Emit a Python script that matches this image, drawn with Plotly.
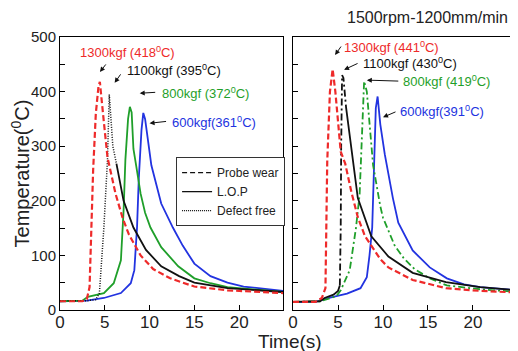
import plotly.graph_objects as go

# ---------------- data ----------------
# Left panel
L_t_1300 = [0, 2.5, 3.0, 3.3, 3.7, 4.0, 4.3, 4.45, 4.8, 5.3, 6.2, 7.0, 7.7, 9.0, 10.4, 12.3, 15.0, 18.7, 24.9]
L_T_1300 = [16, 16, 20, 42, 256, 360, 410, 418, 360, 280, 213, 168, 138, 100, 75, 58, 43, 36, 31]

L_t_1100 = [0, 3.0, 4.0, 4.4, 4.9, 5.3, 5.5, 5.9, 6.3, 7.1, 8.2, 9.6, 11.3, 13.3, 15.0, 18.7, 24.9]
L_T_1100 = [17, 17, 19, 31, 151, 275, 395, 300, 268, 200, 151, 110, 80, 62, 50, 40, 33]

L_t_800 = [0, 2.5, 3.1, 4.9, 6.0, 6.8, 7.1, 7.3, 7.6, 7.8, 8.0, 8.2, 8.5, 9.0, 9.5, 10.1, 11.3, 13.2, 15.0, 16.8, 18.7, 24.9]
L_T_800 = [16, 17, 24, 31, 49, 91, 182, 275, 350, 372, 362, 295, 265, 213, 178, 151, 115, 80, 58, 49, 42, 33]

L_t_600 = [0, 3.0, 4.9, 6.8, 7.9, 8.3, 8.6, 8.8, 9.1, 9.3, 9.5, 9.8, 10.2, 11.3, 12.6, 13.7, 15.0, 16.8, 18.7, 20.5, 24.9]
L_T_600 = [16, 17, 22, 31, 49, 73, 151, 242, 330, 361, 350, 310, 265, 195, 151, 118, 85, 62, 50, 43, 35]

# Right panel (1500rpm-1200mm/min)
R_t_1300 = [0, 2.5, 3.2, 3.6, 3.8, 4.1, 4.4, 4.7, 5.3, 5.8, 6.5, 7.2, 8.0, 9.7, 10.6, 13.3, 17.0, 20.8, 24.9]
R_T_1300 = [15, 15, 22, 40, 272, 400, 441, 400, 290, 268, 215, 170, 135, 93, 78, 55, 40, 35, 32]

R_t_1100 = [0, 3.0, 3.5, 4.5, 5.0, 5.2, 5.3, 5.35, 5.45, 5.6, 5.9, 6.3, 6.6, 7.2, 8.7, 10.6, 13.3, 17.0, 20.8, 24.9]
R_T_1100 = [15, 16, 22, 28, 35, 45, 150, 300, 430, 425, 370, 320, 273, 205, 135, 98, 68, 51, 42, 36]

R_t_800 = [0, 3.0, 4.8, 5.3, 6.3, 7.0, 7.4, 7.7, 7.9, 8.2, 8.6, 8.9, 9.7, 10.0, 11.3, 12.3, 13.5, 15.2, 17.1, 20.8, 24.9]
R_T_800 = [15, 16, 25, 36, 73, 151, 212, 330, 419, 400, 320, 265, 190, 169, 118, 95, 75, 58, 45, 38, 33]

R_t_600 = [0, 2.5, 4.0, 6.0, 7.5, 8.2, 8.5, 8.8, 9.0, 9.2, 9.4, 9.7, 10.2, 10.6, 11.1, 11.7, 13.3, 15.2, 17.1, 19.0, 20.8, 24.9]
R_T_600 = [15, 15, 22, 30, 40, 60, 100, 151, 260, 370, 391, 340, 285, 250, 205, 160, 109, 78, 58, 47, 42, 36]

y_ticks = [0, 100, 200, 300, 400, 500]
x_ticks = [0, 5, 10, 15, 20]

title_text = "1500rpm-1200mm/min"
left_labels = ["1300kgf (418<sup>0</sup>C)", "1100kgf (395<sup>0</sup>C)", "800kgf (372<sup>0</sup>C)", "600kgf(361<sup>0</sup>C)"]
right_labels = ["1300kgf (441<sup>0</sup>C)", "1100kgf (430<sup>0</sup>C)", "800kgf (419<sup>0</sup>C)", "600kgf(391<sup>0</sup>C)"]

# ---------------- styles ----------------
RED = "#ee2a2a"
GREEN = "#1f9f2a"
BLUE = "#2233e0"
BLACK = "#111111"
FONT = "Liberation Sans, Arial, sans-serif"
DASH = "6px,3px"
DOT = "1px,1.5px"
DASHDOT = "7px,3px,2px,3px"

fig = go.Figure()

def line(x, y, color, dash, xa, ya, width=1.8):
    fig.add_trace(go.Scatter(x=x, y=y, mode="lines", xaxis=xa, yaxis=ya, showlegend=False,
                             line=dict(color=color, width=width, dash=dash), hoverinfo="skip"))

# left panel
line(L_t_600, L_T_600, BLUE, "solid", "x", "y")
line(L_t_800, L_T_800, GREEN, "solid", "x", "y")
k = L_t_1100.index(6.3)
line(L_t_1100[:k + 1], L_T_1100[:k + 1], BLACK, DOT, "x", "y", 1.5)
line(L_t_1100[k:], L_T_1100[k:], BLACK, "solid", "x", "y")
line(L_t_1300, L_T_1300, RED, DASH, "x", "y", 2.2)

# right panel
line(R_t_600, R_T_600, BLUE, "solid", "x2", "y2")
line(R_t_800, R_T_800, GREEN, DASHDOT, "x2", "y2")
a = R_t_1100.index(5.2)
b = R_t_1100.index(5.9)
line(R_t_1100[:a + 1], R_T_1100[:a + 1], BLACK, "solid", "x2", "y2")
line(R_t_1100[a:b + 1], R_T_1100[a:b + 1], BLACK, DASHDOT, "x2", "y2")
line(R_t_1100[b:], R_T_1100[b:], BLACK, "solid", "x2", "y2")
line(R_t_1300, R_T_1300, RED, DASH, "x2", "y2", 2.2)

# legend entries
for name, dash in [("Probe wear", "5px,3px"), ("L.O.P", "solid"), ("Defect free", "1px,1px")]:
    fig.add_trace(go.Scatter(x=[None], y=[None], mode="lines", name=name, xaxis="x", yaxis="y",
                             line=dict(color=BLACK, width=1.3, dash=dash)))

ax_common = dict(showline=True, linecolor="black", linewidth=1, mirror=True, showgrid=False,
                 zeroline=False, ticks="inside", ticklen=5, tickcolor="black", automargin=False,
                 tickfont=dict(family=FONT, size=17, color="#222"))
xr = [0, 24.9]
yr = [0, 500]

# the page body adds an 8px offset, so the figure is 8px smaller than the window
fig.update_layout(
    width=510, height=343,
    margin=dict(l=52, r=1, t=29, b=41, autoexpand=False),
    paper_bgcolor="white", plot_bgcolor="white",
    font=dict(family=FONT, color="#222"),
    xaxis=dict(domain=[0, 0.488], range=xr, tickvals=x_ticks, anchor="y", **ax_common),
    xaxis2=dict(domain=[0.510, 1], range=xr, tickvals=x_ticks, anchor="y2", **ax_common),
    yaxis=dict(domain=[0, 1], range=yr, tickvals=y_ticks, anchor="x",
               minor=dict(dtick=50, ticks="inside", ticklen=5, tickcolor="black"),
               title=dict(text="Temperature(<sup>0</sup>C)", font=dict(family=FONT, size=20, color="#222"), standoff=4),
               **{**ax_common, "tickfont": dict(family=FONT, size=15, color="#222")}),
    yaxis2=dict(domain=[0, 1], range=yr, tickvals=y_ticks, anchor="x2", showticklabels=False,
                minor=dict(dtick=50, ticks="inside", ticklen=5, tickcolor="black"), **ax_common),
    legend=dict(x=0.254, y=0.56, xanchor="left", yanchor="top", bgcolor="white",
                bordercolor="#333", borderwidth=1, itemwidth=30,
                font=dict(family=FONT, size=12, color="#222"), tracegroupgap=0),
    showlegend=True,
)
fig.update_xaxes(ticklabelstandoff=-3)

annotations = []
# axis title for time + panel title
annotations.append(dict(text="Time(s)", x=0.503, y=-0.117, xref="paper", yref="paper", showarrow=False,
                        xanchor="center", yanchor="middle", font=dict(family=FONT, size=19, color="#222")))
annotations.append(dict(text=title_text, x=0.985, y=1.07, xref="paper", yref="paper", showarrow=False,
                        xanchor="right", yanchor="middle", font=dict(family=FONT, size=16, color="#222")))

# peak labels: (text, color, axis, x, y)
lab_pos_L = [(2.0, 472), (7.25, 440), (11.15, 397), (12.26, 344)]
lab_pos_R = [(5.4, 482), (7.55, 452), (12.0, 419), (11.67, 364)]
cols = [RED, BLACK, GREEN, BLUE]
for txt, c, (x, y) in zip(left_labels, cols, lab_pos_L):
    annotations.append(dict(text=txt, x=x, y=y, xref="x", yref="y", showarrow=False, xanchor="left",
                            yanchor="middle", font=dict(family=FONT, size=13, color=c)))
for txt, c, (x, y) in zip(right_labels, cols, lab_pos_R):
    annotations.append(dict(text=txt, x=x, y=y, xref="x2", yref="y2", showarrow=False, xanchor="left",
                            yanchor="middle", font=dict(family=FONT, size=13, color=c)))

# arrows: head (x, y) and tail offset (ax, ay) in pixels
arr_L = [(4.46, 436, 7, -9), (6.1, 416, 7, -10), (8.9, 397, 17, -1), (10.0, 342, 18, -2)]
arr_R = [(4.67, 467, 7, -10), (5.67, 440, 15, -7), (8.2, 421, 33, 1), (10.0, 353, 14, -6)]
for (x, y, dx, dy) in arr_L:
    annotations.append(dict(text="", x=x, y=y, xref="x", yref="y", ax=dx, ay=dy, showarrow=True,
                            arrowhead=2, arrowsize=1, arrowwidth=1, arrowcolor=BLACK))
for (x, y, dx, dy) in arr_R:
    annotations.append(dict(text="", x=x, y=y, xref="x2", yref="y2", ax=dx, ay=dy, showarrow=True,
                            arrowhead=2, arrowsize=1, arrowwidth=1, arrowcolor=BLACK))
fig.update_layout(annotations=annotations)

fig.write_html("out.html")
